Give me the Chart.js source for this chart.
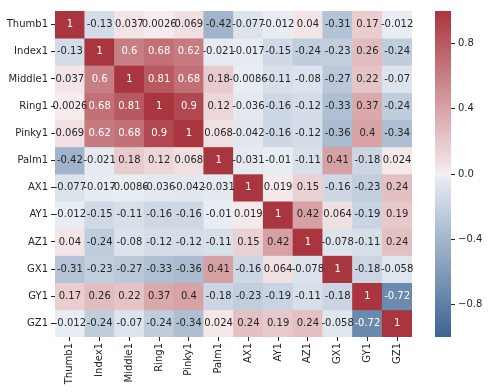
<!DOCTYPE html>
<html><head><meta charset="utf-8">
<script src="https://cdn.jsdelivr.net/npm/chart.js@4/dist/chart.umd.min.js"></script>
<style>
html,body{margin:0;padding:0;background:#fff;width:489px;height:392px;overflow:hidden}
#main{position:absolute;left:0;top:0}
#cbar{position:absolute;left:420px;top:0}
</style></head><body>
<canvas id="main" width="420" height="392"></canvas>
<canvas id="cbar" width="69" height="392"></canvas>
<script>
const labels = ["Thumb1","Index1","Middle1","Ring1","Pinky1","Palm1","AX1","AY1","AZ1","GX1","GY1","GZ1"];
const thumb1 = [1,-0.13,0.037,0.0026,0.069,-0.42,-0.077,-0.012,0.04,-0.31,0.17,-0.012];
const index1 = [-0.13,1,0.6,0.68,0.62,-0.021,-0.017,-0.15,-0.24,-0.23,0.26,-0.24];
const middle1 = [0.037,0.6,1,0.81,0.68,0.18,-0.0086,-0.11,-0.08,-0.27,0.22,-0.07];
const ring1 = [0.0026,0.68,0.81,1,0.9,0.12,-0.036,-0.16,-0.12,-0.33,0.37,-0.24];
const pinky1 = [0.069,0.62,0.68,0.9,1,0.068,-0.042,-0.16,-0.12,-0.36,0.4,-0.34];
const palm1 = [-0.42,-0.021,0.18,0.12,0.068,1,-0.031,-0.01,-0.11,0.41,-0.18,0.024];
const ax1 = [-0.077,-0.017,-0.0086,-0.036,-0.042,-0.031,1,0.019,0.15,-0.16,-0.23,0.24];
const ay1 = [-0.012,-0.15,-0.11,-0.16,-0.16,-0.01,0.019,1,0.42,0.064,-0.19,0.19];
const az1 = [0.04,-0.24,-0.08,-0.12,-0.12,-0.11,0.15,0.42,1,-0.078,-0.11,0.24];
const gx1 = [-0.31,-0.23,-0.27,-0.33,-0.36,0.41,-0.16,0.064,-0.078,1,-0.18,-0.058];
const gy1 = [0.17,0.26,0.22,0.37,0.4,-0.18,-0.23,-0.19,-0.11,-0.18,1,-0.72];
const gz1 = [-0.012,-0.24,-0.07,-0.24,-0.34,0.024,0.24,0.19,0.24,-0.058,-0.72,1];
const rows = [thumb1,index1,middle1,ring1,pinky1,palm1,ax1,ay1,az1,gx1,gy1,gz1];
const cbarTicks = [-0.8,-0.4,0,0.4,0.8];

const RED = [169,54,62], BLUE = [59,99,147], POSL = [246,236,237], NEGL = [234,238,244], MID = [242,242,242];
function mix(a,b,t){return a.map((x,i)=>x+(b[i]-x)*t);}
function colorArr(v){
  if (v > 0) return mix(POSL, RED, v);
  if (v < 0) return mix(NEGL, BLUE, -v);
  return MID;
}
function color(v){const c=colorArr(v);return `rgb(${c.map(Math.round).join(',')})`;}
function lum(c){
  const l = c.map(x=>{x/=255;return x<=0.03928?x/12.92:Math.pow((x+0.055)/1.055,2.4);});
  return 0.2126*l[0]+0.7152*l[1]+0.0722*l[2];
}
function fmt(v){return String(Number(v.toPrecision(2)));}

const FONT = {family:"'DejaVu Sans', sans-serif", size:10};
const TXT = '#262626';

const datasets = rows.map((row,i)=>({
  data: row.map(()=>[i, i+1]),
  values: row,
  backgroundColor: row.map(color),
  borderWidth: 0,
  barPercentage: 1,
  categoryPercentage: 1,
  grouped: false
}));

const annot = {
  id:'annot',
  afterDatasetsDraw(chart){
    const ctx = chart.ctx;
    ctx.save();
    ctx.font = "10px 'DejaVu Sans', sans-serif";
    ctx.textAlign='center'; ctx.textBaseline='middle';
    chart.data.datasets.forEach((ds,di)=>{
      const meta = chart.getDatasetMeta(di);
      meta.data.forEach((el,j)=>{
        const p = el.getProps(['x','y','base'],true);
        const v = ds.values[j];
        ctx.fillStyle = lum(colorArr(v)) < 0.408 ? '#ffffff' : TXT;
        ctx.fillText(fmt(v), p.x, (p.y+p.base)/2);
      });
    });
    ctx.restore();
  }
};

new Chart(document.getElementById('main'), {
  type:'bar',
  data:{labels, datasets},
  options:{
    responsive:false, animation:false,
    layout:{padding:{left:0,top:11,right:8,bottom:0}},
    plugins:{legend:{display:false},tooltip:{enabled:false}},
    scales:{
      x:{
        type:'category', offset:true,
        grid:{display:true, drawOnChartArea:false, drawTicks:true, tickLength:4, color:TXT, offset:false},
        border:{display:false},
        ticks:{color:TXT, font:FONT, maxRotation:90, minRotation:90, autoSkip:false, padding:2},
        afterFit(s){s.height=55;}
      },
      y:{
        type:'linear', min:0, max:12, reverse:true,
        grid:{display:true, drawOnChartArea:false, drawTicks:true, tickLength:4, color:TXT},
        border:{display:false},
        afterBuildTicks(s){s.ticks = labels.map((_,i)=>({value:i+0.5}));},
        ticks:{color:TXT, font:FONT, autoSkip:false, padding:3, callback:(v,i)=>labels[i]},
        afterFit(s){s.width=55;}
      }
    }
  },
  plugins:[annot]
});

function gradient(ctx){
  const ca = ctx.chart.chartArea;
  if(!ca) return 'rgb(242,242,242)';
  const g = ctx.chart.ctx.createLinearGradient(0, ca.bottom, 0, ca.top);
  const N = 40;
  for(let k=0;k<=N;k++){
    const v = -1 + 2*k/N;
    g.addColorStop(k/N, color(v));
  }
  return g;
}

new Chart(document.getElementById('cbar'), {
  type:'bar',
  data:{labels:['cb'], datasets:[{data:[[-1,1]], backgroundColor:gradient, borderWidth:0, barPercentage:1, categoryPercentage:1, inflateAmount:0}]},
  options:{
    responsive:false, animation:false,
    layout:{padding:{left:15,top:11,right:0,bottom:55}},
    plugins:{legend:{display:false},tooltip:{enabled:false}},
    scales:{
      x:{display:false},
      y:{
        type:'linear', position:'right', min:-1, max:1,
        grid:{display:true, drawOnChartArea:false, drawTicks:true, tickLength:4, color:TXT},
        border:{display:false},
        afterBuildTicks(s){s.ticks = cbarTicks.map(v=>({value:v}));},
        ticks:{color:TXT, font:FONT, padding:3, autoSkip:false, callback:(v)=>v.toFixed(1).replace('-','\u2212')},
        afterFit(s){s.width=38;}
      }
    }
  }
});
</script>
</body></html>
